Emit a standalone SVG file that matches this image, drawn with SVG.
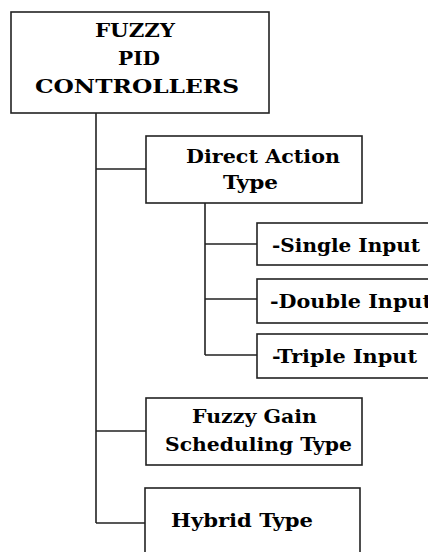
<svg xmlns="http://www.w3.org/2000/svg" width="428" height="552" viewBox="0 0 428 552">
<style>
.box{fill:#fff;stroke:#222;stroke-width:1.6}
.ln{fill:none;stroke:#222;stroke-width:1.6}
.t{font-family:'DejaVu Serif','Liberation Serif',serif;font-weight:bold;font-size:19px;fill:#000}
</style>
<rect width="428" height="552" fill="#fff"/>
<g id="connectors">
<path class="ln" d="M96,113 V523 M96,169 H146 M96,431 H146 M96,523 H145"/>
<path class="ln" d="M205,203 V355 M205,244 H257 M205,299 H257 M205,355 H257"/>
</g>
<g id="root">
<rect class="box" x="11" y="12" width="258" height="101"/>
<text class="t" x="95" y="37" textLength="80" lengthAdjust="spacingAndGlyphs">FUZZY</text>
<text class="t" x="118" y="65" textLength="42" lengthAdjust="spacingAndGlyphs">PID</text>
<text class="t" x="35" y="93" textLength="204" lengthAdjust="spacingAndGlyphs">CONTROLLERS</text>
</g>
<g id="direct">
<rect class="box" x="146" y="136" width="216" height="67"/>
<text class="t" x="186" y="163" textLength="154" lengthAdjust="spacingAndGlyphs">Direct Action</text>
<text class="t" x="223" y="189" textLength="55" lengthAdjust="spacingAndGlyphs">Type</text>
</g>
<g id="single">
<rect class="box" x="257" y="223" width="190" height="42"/>
<text class="t" x="272" y="252" textLength="148" lengthAdjust="spacingAndGlyphs">-Single Input</text>
</g>
<g id="double">
<rect class="box" x="257" y="279" width="190" height="44"/>
<text class="t" x="270" y="308" textLength="162" lengthAdjust="spacingAndGlyphs">-Double Input</text>
</g>
<g id="triple">
<rect class="box" x="257" y="334" width="190" height="44"/>
<text class="t" x="272" y="363" textLength="145" lengthAdjust="spacingAndGlyphs">-Triple Input</text>
</g>
<g id="gain">
<rect class="box" x="146" y="398" width="216" height="67"/>
<text class="t" x="192" y="423" textLength="125" lengthAdjust="spacingAndGlyphs">Fuzzy Gain</text>
<text class="t" x="165" y="451" textLength="187" lengthAdjust="spacingAndGlyphs">Scheduling Type</text>
</g>
<g id="hybrid">
<rect class="box" x="145" y="488" width="215" height="80"/>
<text class="t" x="171" y="527" textLength="142" lengthAdjust="spacingAndGlyphs">Hybrid Type</text>
</g>
</svg>
